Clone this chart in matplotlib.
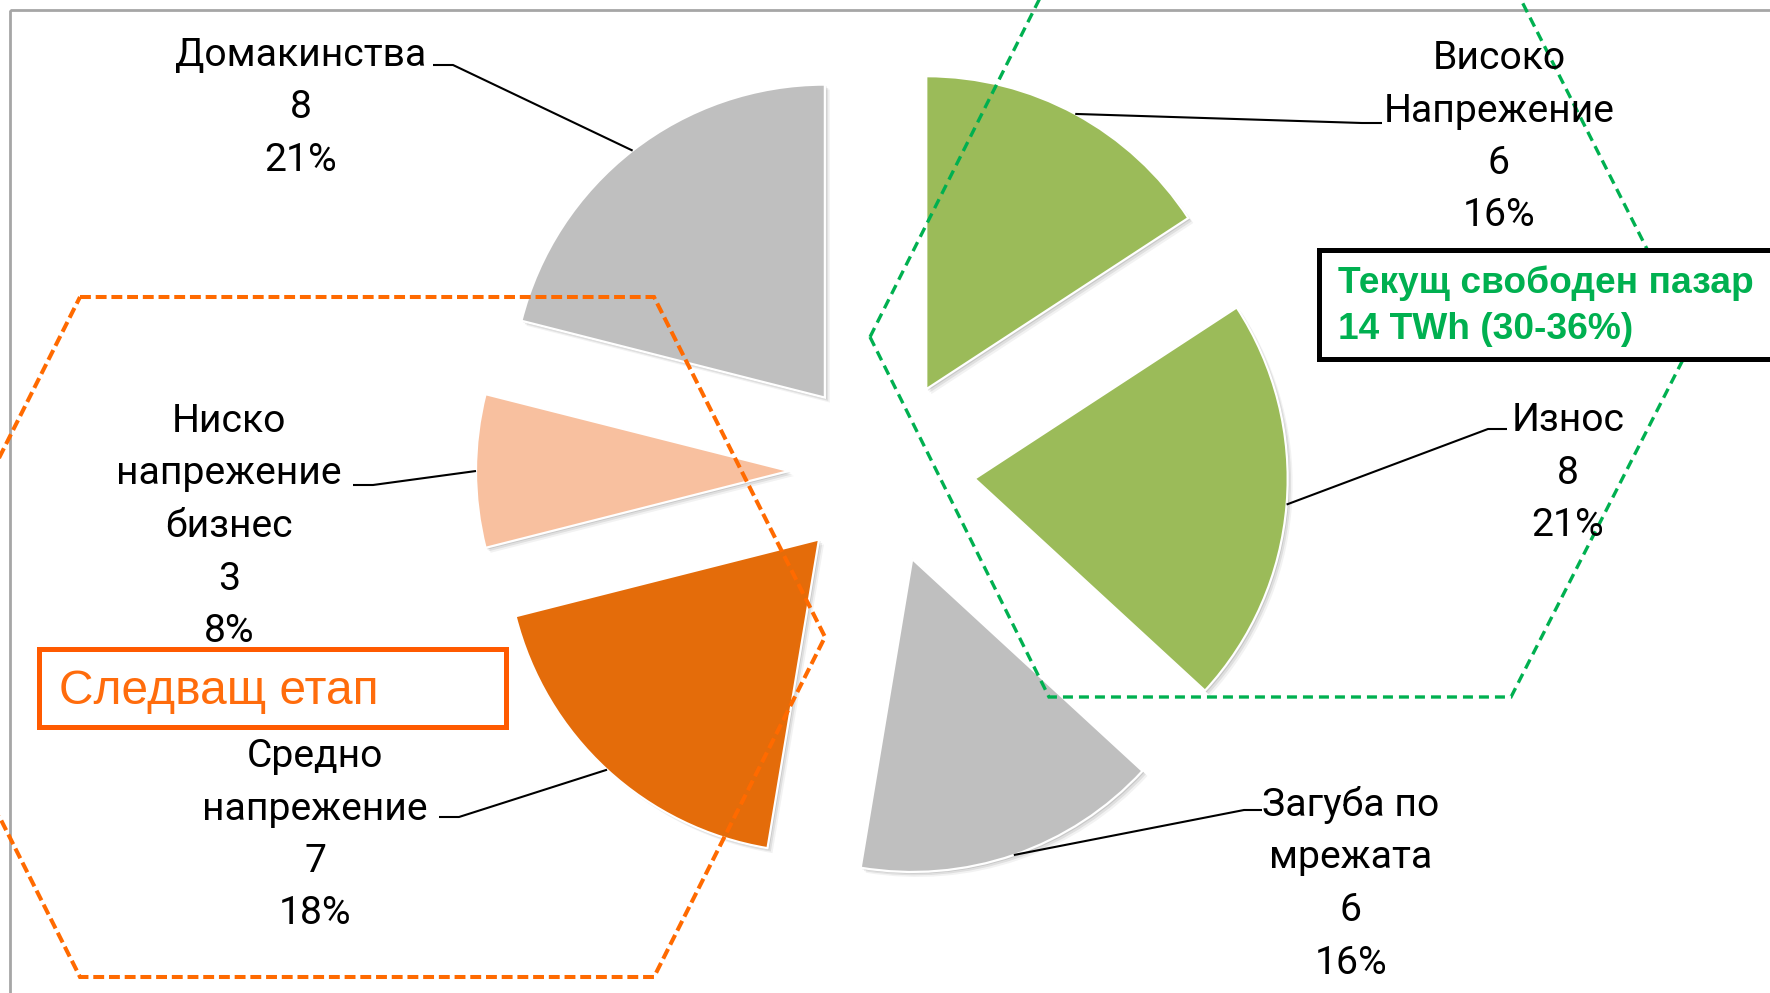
import numpy as np
import matplotlib.pyplot as plt
from matplotlib.patches import Polygon, Rectangle, Shadow

# Потребление по сегменти, TWh (по часовниковата стрелка от 12 ч.)
segments = ['Високо\nНапрежение', 'Износ', 'Загуба по\nмрежата',
            'Средно\nнапрежение', 'Ниско\nнапрежение\nбизнес', 'Домакинства']
twh = [6, 8, 6, 7, 3, 8]
slice_colors = ['#9BBB59', '#9BBB59', '#BFBFBF', '#E46C0A', '#F8C09F', '#BFBFBF']

free_market_text = ['Текущ свободен пазар', '14 TWh (30-36%)']
next_stage_text = 'Следващ етап'

W, H = 1770, 993
fig = plt.figure(figsize=(W / 100, H / 100), dpi=100)
ax = fig.add_axes([0, 0, 1, 1])

# pie in pixel units, y axis pointing down
cx, cy, R, gap = 882, 471, 313, 93
wedges, _ = ax.pie(twh, colors=slice_colors, startangle=-90, counterclock=True,
                   center=(cx, cy), radius=R, explode=[gap] * len(twh),
                   wedgeprops=dict(edgecolor='white', linewidth=1.6))
ax.set_xlim(0, W)
ax.set_ylim(H, 0)
ax.set_aspect('equal')
ax.axis('off')

# soft drop shadow
for w in wedges:
    for off, a in [(1.2, 0.10), (2.4, 0.08), (3.6, 0.05)]:
        ax.add_patch(Shadow(w, off, off, facecolor='black', edgecolor='none',
                            alpha=a, zorder=w.get_zorder() - 0.1))

# chart area border
ax.add_patch(Rectangle((10, 9.5), 1800, 1010, fill=False, edgecolor='#A6A6A6',
                       lw=2.0, zorder=0.5))

# label blocks: (centre x, first line centre y) and leader elbow (x, y, end x)
label_pos = [(1499, 56), (1568, 418), (1351, 803), (315, 754), (229, 419), (301, 53)]
elbows = [(1362, 123, 1382), (1488, 429, 1507), (1244, 810, 1262),
          (459, 817, 439), (373, 485, 353), (453, 65, 433)]
step = 52.5
label_font = ['Roboto', 'DejaVu Sans']
total = sum(twh)

for w, name, v, (lx, ly), (ex, ey, ee) in zip(wedges, segments, twh, label_pos, elbows):
    th = np.deg2rad((w.theta1 + w.theta2) / 2)
    px = w.center[0] + w.r * np.cos(th)
    py = w.center[1] + w.r * np.sin(th)
    ax.plot([px, ex, ee], [py, ey, ey], color='black', lw=1.5, zorder=2,
            solid_capstyle='butt')
    rows = name.split('\n') + [str(v), f'{round(100 * v / total)}%']
    for k, row in enumerate(rows):
        ax.text(lx, ly + k * step + 13, row, ha='center', va='baseline',
                fontsize=28.2, family=label_font, color='black', zorder=6)

# dashed groupings
orange_hex = [(80, 297), (654, 297), (825, 637), (654, 977), (80, 977), (-91, 637)]
green_hex = [(870, 337), (1049, 697), (1511, 697), (1693, 340), (1511, -20), (1049, -20)]
ax.add_patch(Polygon(orange_hex, closed=True, fill=False, edgecolor='#FF6A00',
                     lw=2.9, linestyle=(0, (2.7, 1.2)), zorder=3))
ax.add_patch(Polygon(green_hex, closed=True, fill=False, edgecolor='#00B050',
                     lw=2.4, linestyle=(0, (3.0, 1.8)), zorder=3))

# text boxes
ax.add_patch(Rectangle((1318.5, 250), 600, 108.5, facecolor='white',
                       edgecolor='black', lw=3.6, zorder=5))
for k, row in enumerate(free_market_text):
    ax.text(1338, 293 + k * 46, row, ha='left', va='baseline', fontsize=26.7,
            fontweight='bold', family=['Liberation Sans', 'DejaVu Sans'],
            color='#00B050', zorder=6)

ax.add_patch(Rectangle((39, 649), 467, 77.5, facecolor='white',
                       edgecolor='#FF5A00', lw=3.6, zorder=5))
ax.text(59, 704, next_stage_text, ha='left', va='baseline', fontsize=34.5,
        family=['Liberation Sans', 'DejaVu Sans'], color='#FF6C0C', zorder=6)

fig.savefig('out.png', dpi=100, facecolor='white')
